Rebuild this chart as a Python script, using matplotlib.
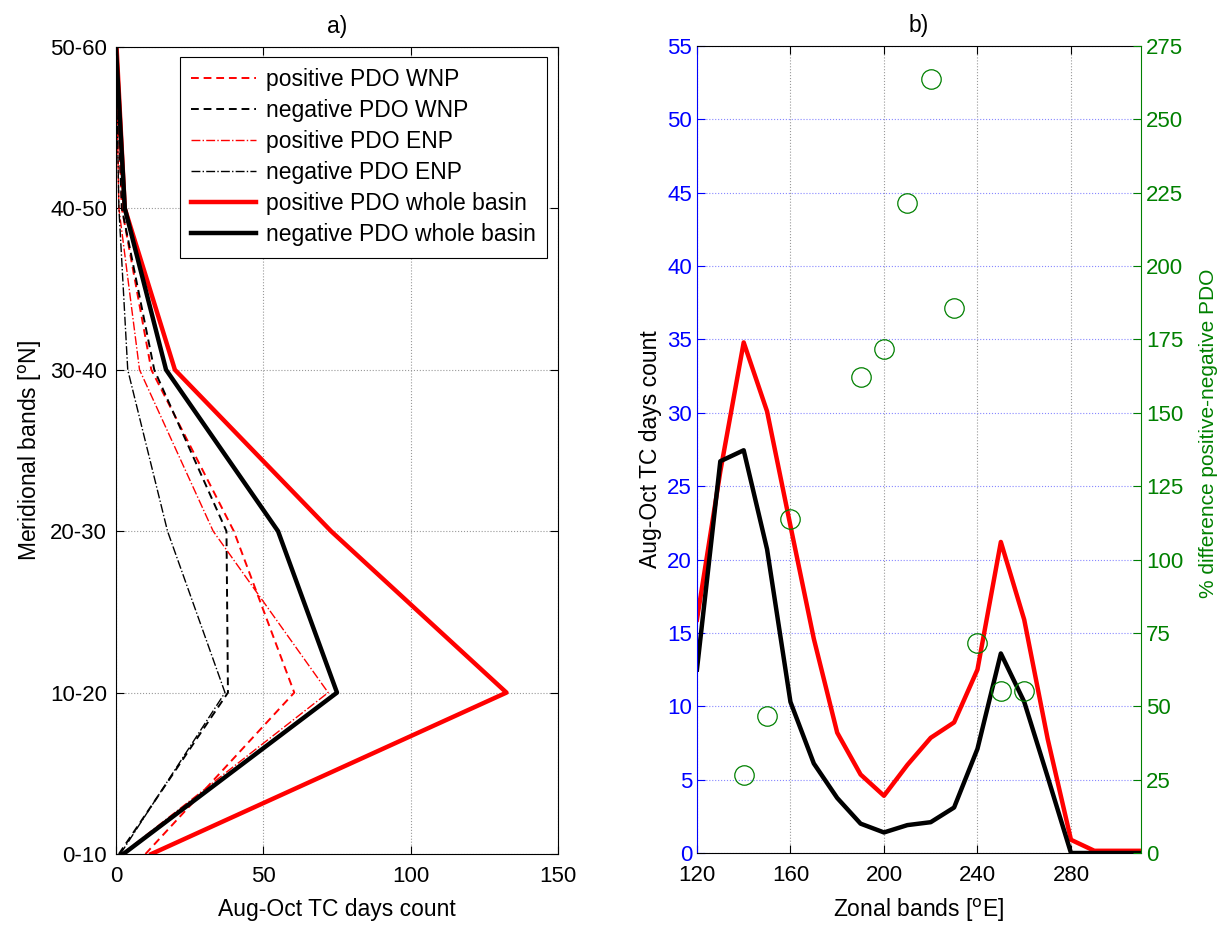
import matplotlib

matplotlib.use("Agg")
import matplotlib.pyplot as plt
import numpy as np

plt.rcParams["font.family"] = ["Liberation Sans", "DejaVu Sans"]
plt.rcParams["font.size"] = 16

# panel a) meridional bands
bands = ["0-10", "10-20", "20-30", "30-40", "40-50", "50-60"]
pos_wnp = [10, 60.5, 40, 12, 2, 0]
neg_wnp = [1, 38, 37.5, 13, 2, 0]
pos_enp = [2, 72, 33, 8, 1, 0]
neg_enp = [1.5, 37, 17.5, 4, 1, 0]
pos_all = [12, 132.5, 73, 20, 3, 0.2]
neg_all = [2.5, 75, 55, 17, 3, 0]

# panel b) zonal bands
lon = [120, 130, 140, 150, 160, 170, 180, 190, 200, 210,
       220, 230, 240, 250, 260, 270, 280, 290, 300, 310]
pos_lon = [15.9, 26.0, 34.8, 30.1, 22.3, 14.6, 8.2, 5.35, 3.9, 6.0,
           7.85, 8.9, 12.5, 21.2, 15.9, 7.8, 0.9, 0.15, 0.15, 0.15]
neg_lon = [12.5, 26.7, 27.45, 20.7, 10.3, 6.1, 3.75, 2.0, 1.4, 1.9,
           2.1, 3.1, 7.1, 13.6, 10.3, 5.2, 0, 0, 0, 0]
diff_lon = [140, 150, 160, 190, 200, 210, 220, 230, 240, 250, 260]
diff_pct = [26.7, 46.7, 113.9, 162.2, 171.7, 221.6, 263.8, 185.7, 71.7, 55.3, 55.3]

green = (0, 0.5, 0)
grid_kw = dict(linestyle=":", linewidth=0.8)

fig = plt.figure(figsize=(12.27, 9.3), dpi=100)

# ---- panel a)
ax1 = fig.add_axes([0.0945, 0.0817, 0.3603, 0.8678])
y = np.arange(len(bands))
ax1.plot(pos_wnp, y, color="red", linestyle=(0, (4, 2.5)), linewidth=1.4, label="positive PDO WNP")
ax1.plot(neg_wnp, y, color="black", linestyle=(0, (4, 2.5)), linewidth=1.4, label="negative PDO WNP")
ax1.plot(pos_enp, y, color="red", linestyle="-.", linewidth=1.0, label="positive PDO ENP")
ax1.plot(neg_enp, y, color="black", linestyle="-.", linewidth=1.0, label="negative PDO ENP")
ax1.plot(pos_all, y, color="red", linewidth=3.2, label="positive PDO whole basin")
ax1.plot(neg_all, y, color="black", linewidth=3.2, label="negative PDO whole basin")
ax1.set_xlim(0, 150)
ax1.set_ylim(0, len(bands) - 1)
ax1.set_xticks([0, 50, 100, 150])
ax1.set_yticks(y, bands)
ax1.grid(True, color="#999999", **grid_kw)
ax1.tick_params(axis="x", direction="in", top=True, length=6, pad=8.5)
ax1.tick_params(axis="y", direction="in", right=True, length=6, pad=6.5)
ax1.set_xlabel("Aug-Oct TC days count", labelpad=8, fontsize=16.5)
ax1.set_ylabel("Meridional bands [$^\\mathrm{o}$N]", fontsize=16.5)
ax1.set_title("a)", pad=10, fontsize=16.5)
leg = ax1.legend(loc="upper right", bbox_to_anchor=(0.975, 0.988), borderaxespad=0,
                 fancybox=False, edgecolor="black", framealpha=1, handlelength=2.85,
                 labelspacing=0.35, borderpad=0.5, handletextpad=0.4, fontsize=16.5)
leg.get_frame().set_linewidth(0.8)

# ---- panel b)
ax2 = fig.add_axes([0.568, 0.0828, 0.362, 0.8677])
ax2.plot(lon, pos_lon, color="red", linewidth=3.2)
ax2.plot(lon, neg_lon, color="black", linewidth=3.2)
ax2.set_xlim(120, 310)
ax2.set_ylim(0, 55)
ax2.set_xticks([120, 160, 200, 240, 280])
ax2.set_yticks(np.arange(0, 56, 5))
ax2.xaxis.grid(True, color="#999999", **grid_kw)
ax2.yaxis.grid(True, color="#8888ff", **grid_kw)
ax2.tick_params(axis="x", direction="in", top=True, length=6, pad=8.5)
ax2.tick_params(axis="y", direction="in", length=6, colors="blue", labelcolor="blue")
ax2.spines["left"].set_color("blue")
ax2.spines["right"].set_visible(False)
ax2.set_xlabel("Zonal bands [$^\\mathrm{o}$E]", labelpad=8, fontsize=16.5)
ax2.set_ylabel("Aug-Oct TC days count", color="black", fontsize=16.5)
ax2.set_title("b)", pad=10, fontsize=16.5)

ax3 = ax2.twinx()
ax3.plot(diff_lon, diff_pct, linestyle="none", marker="o", markersize=14,
         markerfacecolor="none", markeredgecolor=green, markeredgewidth=0.9)
ax3.set_ylim(0, 275)
ax3.set_yticks(np.arange(0, 276, 25))
ax3.tick_params(axis="y", direction="in", length=6, colors=green, labelcolor=green)
for side in ["left", "top", "bottom"]:
    ax3.spines[side].set_visible(False)
ax3.spines["right"].set_color(green)
ax3.set_ylabel("% difference positive-negative PDO", color=green, fontsize=15)
ax3.yaxis.set_label_coords(1.13, 0.52)

fig.savefig("out.png", dpi=100)
